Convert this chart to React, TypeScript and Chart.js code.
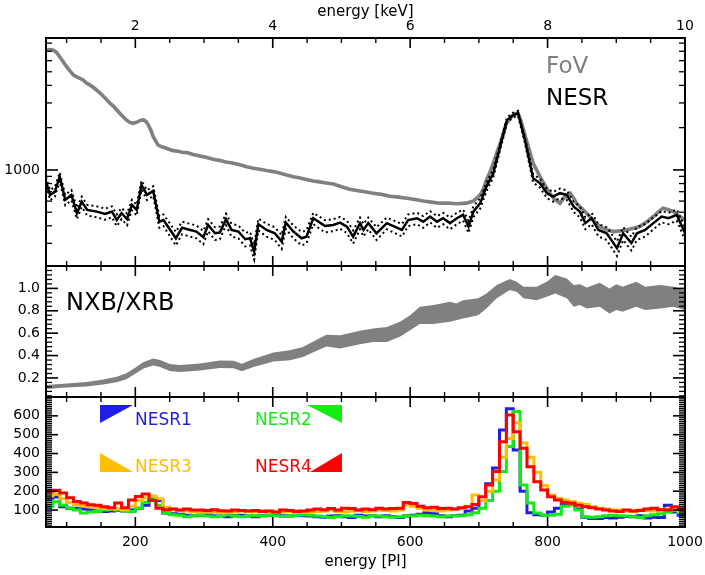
import React, { useEffect, useRef } from "react";
import { Chart, registerables } from "chart.js";

Chart.register(...registerables);

const FONT = "'DejaVu Sans', sans-serif";
Chart.defaults.font.family = FONT;
Chart.defaults.color = "#000";

const GRAY = "#808080";
const BLUE = "#1e1ee6";
const GREEN = "#14eb14";
const ORANGE = "#ffbf00";
const RED = "#ff0000";

// ---------- upper panel: FoV and NESR spectra (counts, log scale) ----------
const fovPI = [
  70, 75, 80, 85, 90, 95, 100, 105, 110, 117, 124, 129, 134, 141, 149, 156, 163, 168, 173, 180,
  187, 192, 197, 203, 208, 212, 216, 219, 223, 226, 230, 233, 237, 241, 248, 255, 262, 268, 275, 284,
  294, 303, 313, 322, 332, 343, 352, 362, 372, 381, 391, 401, 410, 420, 430, 440, 449, 459, 468, 478,
  488, 500, 512, 522, 534, 546, 558, 571, 583, 595, 607, 619, 631, 643, 655, 668, 682, 692, 702, 707,
  711, 716, 721, 726, 731, 736, 740, 745, 750, 754, 757, 761, 765, 768, 772, 776, 779, 784, 789, 796,
  803, 810, 818, 825, 833, 838, 842, 850, 857, 866, 876, 886, 896, 905, 915, 925, 934, 944, 954, 961,
  968, 976, 983, 991, 1000,
];
const fovCounts = [
  7063, 7200, 7142, 6900, 6400, 5900, 5433, 5050, 4745, 4550, 4374, 4150, 4030, 3800, 3515, 3250, 2986, 2850, 2673, 2450,
  2270, 2180, 2149, 2200, 2260, 2270, 2200, 2089, 1900, 1726, 1600, 1506, 1470, 1451, 1410, 1372, 1360, 1335, 1328, 1290,
  1258, 1230, 1191, 1170, 1140, 1116, 1090, 1055, 1028, 1010, 990, 973, 950, 920, 896, 875, 855, 835, 822, 808,
  795, 760, 729, 715, 700, 683, 670, 650, 640, 629, 615, 600, 590, 580, 582, 575, 580, 600, 664, 740,
  849, 960, 1116, 1320, 1549, 1850, 2149, 2320, 2462, 2520, 2533, 2250, 1927, 1700, 1465, 1250, 1116, 1000, 896, 780,
  683, 620, 580, 640, 683, 630, 580, 530, 492, 440, 395, 375, 364, 368, 374, 385, 395, 425, 466, 500,
  534, 520, 505, 470, 440,
];
const nesrPI = [
  70, 76, 83, 90, 98, 107, 115, 122, 130, 144, 156, 166, 173, 180, 188, 195, 202, 209, 217, 226,
  235, 241, 259, 268, 280, 289, 299, 306, 316, 323, 332, 340, 350, 360, 367, 373, 379, 391, 403, 413,
  419, 430, 442, 449, 459, 476, 488, 498, 508, 517, 527, 532, 539, 551, 566, 588, 597, 610, 619, 629,
  639, 648, 658, 668, 677, 685, 692, 702, 711, 721, 731, 741, 750, 757, 767, 779, 789, 799, 808, 818,
  828, 838, 847, 855, 864, 874, 886, 901, 910, 922, 930, 942, 954, 966, 976, 988, 1000,
];
const nesrCounts = [
  825, 664, 701, 896, 612, 664, 492, 595, 519, 505, 486, 505, 440, 492, 446, 564, 519, 782, 664, 709,
  428, 440, 326, 388, 374, 364, 332, 406, 354, 358, 446, 374, 364, 321, 326, 262, 411, 374, 354, 309,
  422, 364, 326, 335, 453, 399, 406, 422, 395, 335, 418, 374, 418, 354, 418, 374, 440, 453, 428, 466,
  428, 453, 418, 453, 479, 395, 505, 580, 761, 947, 1465, 2270, 2462, 2533, 1635, 873, 804, 683, 646, 683,
  664, 548, 505, 418, 453, 374, 354, 277, 354, 301, 354, 374, 418, 466, 453, 479, 354,
];
const nesrErr = [
  60, 55, 55, 62, 52, 55, 45, 50, 46, 45, 44, 45, 42, 45, 42, 48, 46, 58, 54, 56,
  41, 42, 36, 40, 39, 38, 36, 40, 37, 37, 42, 39, 38, 36, 36, 32, 40, 39, 37, 35,
  41, 38, 36, 36, 42, 40, 40, 41, 40, 36, 40, 38, 40, 37, 40, 38, 42, 42, 41, 43,
  41, 42, 40, 42, 43, 39, 45, 48, 56, 62, 78, 98, 102, 104, 82, 60, 57, 53, 51, 53,
  52, 47, 45, 40, 42, 38, 37, 33, 37, 34, 37, 38, 40, 43, 42, 43, 37,
];

// ---------- middle panel: NXB/XRB ratio band ----------
const ratioPI = [
  70, 100, 129, 153, 173, 187, 197, 212, 226, 236, 250, 265, 294, 323, 343, 355, 372, 401, 425, 444,
  464, 478, 498, 527, 546, 566, 585, 600, 614, 634, 658, 667, 677, 699, 711, 726, 745, 755, 765, 784,
  799, 811, 828, 838, 847, 857, 876, 890, 900, 909, 929, 942, 964, 983, 1000,
];
const ratioHi = [
  0.137, 0.15, 0.164, 0.187, 0.21, 0.242, 0.281, 0.343, 0.374, 0.36, 0.324, 0.315, 0.33, 0.356, 0.354, 0.327, 0.37, 0.428, 0.448, 0.477,
  0.542, 0.585, 0.582, 0.621, 0.642, 0.656, 0.701, 0.761, 0.835, 0.851, 0.88, 0.866, 0.895, 0.911, 0.955, 1.03, 1.083, 1.059, 1.014, 1.014,
  1.059, 1.119, 1.089, 1.03, 1.038, 1.009, 1.05, 1.0, 1.038, 1.014, 1.059, 1.014, 1.03, 1.014, 0.985,
];
const ratioLo = [
  0.102, 0.114, 0.123, 0.142, 0.161, 0.188, 0.227, 0.284, 0.312, 0.298, 0.262, 0.253, 0.267, 0.289, 0.286, 0.259, 0.298, 0.348, 0.358, 0.388,
  0.443, 0.48, 0.463, 0.502, 0.522, 0.522, 0.567, 0.627, 0.681, 0.681, 0.701, 0.716, 0.732, 0.761, 0.821, 0.911, 0.985, 0.97, 0.911, 0.895,
  0.925, 0.955, 0.911, 0.835, 0.851, 0.821, 0.835, 0.776, 0.806, 0.791, 0.835, 0.806, 0.821, 0.835, 0.806,
];

// ---------- lower panel: NESR1-4 histograms (10-PI bins, left edges + final edge) ----------
const binEdges = [
  70, 80, 90, 100, 110, 120, 130, 140, 150, 160, 170, 180, 190, 200, 210, 220, 230, 240, 250, 260,
  270, 280, 290, 300, 310, 320, 330, 340, 350, 360, 370, 380, 390, 400, 410, 420, 430, 440, 450, 460,
  470, 480, 490, 500, 510, 520, 530, 540, 550, 560, 570, 580, 590, 600, 610, 620, 630, 640, 650, 660,
  670, 680, 690, 700, 710, 720, 730, 740, 750, 760, 770, 780, 790, 800, 810, 820, 830, 840, 850, 860,
  870, 880, 890, 900, 910, 920, 930, 940, 950, 960, 970, 980, 990, 1000,
];
const nesr1 = [
  162, 169, 118, 110, 110, 105, 100, 95, 92, 95, 98, 95, 100, 110, 126, 163, 150, 84, 80, 78,
  72, 70, 72, 75, 70, 68, 65, 70, 72, 68, 65, 70, 72, 75, 70, 68, 72, 70, 68, 65,
  62, 68, 70, 65, 60, 72, 68, 70, 65, 70, 65, 60, 68, 72, 78, 85, 80, 70, 65, 70,
  72, 95, 110, 150, 240, 323, 525, 637, 419, 200, 85, 75, 72, 90, 110, 125, 135, 105, 62, 55,
  55, 60, 58, 62, 66, 64, 70, 58, 62, 60, 125, 90, 72,
];
const nesr2 = [
  118, 144, 126, 110, 100, 84, 90, 92, 100, 105, 100, 95, 92, 110, 142, 169, 126, 84, 75, 72,
  65, 70, 72, 68, 65, 70, 75, 68, 65, 70, 70, 68, 72, 70, 66, 70, 72, 75, 72, 68,
  65, 60, 65, 70, 68, 66, 62, 70, 68, 65, 62, 65, 70, 68, 72, 70, 68, 65, 68, 70,
  70, 75, 85, 110, 150, 200, 304, 437, 623, 233, 137, 84, 73, 73, 78, 120, 127, 100, 64, 62,
  65, 70, 72, 70, 68, 65, 60, 70, 75, 80, 90, 100, 85,
];
const nesr3 = [
  175, 185, 160, 140, 130, 122, 118, 112, 108, 105, 108, 102, 120, 150, 165, 175, 160, 115, 100, 98,
  95, 90, 92, 88, 90, 85, 88, 90, 95, 92, 90, 95, 92, 88, 90, 92, 95, 90, 88, 92,
  95, 100, 92, 90, 95, 98, 92, 95, 100, 98, 95, 100, 130, 120, 110, 100, 98, 95, 100, 105,
  110, 120, 180, 150, 200, 260, 380, 480, 563, 456, 380, 300, 230, 180, 162, 153, 145, 136, 130, 118,
  110, 105, 100, 100, 95, 92, 100, 98, 95, 100, 105, 100, 95,
];
const nesr4 = [
  200, 205, 190, 165, 145, 137, 128, 125, 118, 112, 137, 112, 153, 172, 185, 150, 110, 102, 105, 100,
  105, 100, 100, 98, 102, 96, 95, 100, 98, 95, 98, 92, 95, 90, 100, 98, 92, 95, 100, 105,
  102, 108, 100, 110, 108, 100, 105, 102, 110, 105, 108, 110, 140, 135, 120, 112, 115, 108, 110, 105,
  112, 118, 130, 171, 233, 304, 463, 605, 516, 428, 330, 250, 206, 171, 153, 140, 136, 125, 118, 112,
  105, 100, 95, 92, 100, 95, 98, 105, 110, 102, 100, 118, 105,
];

// ---------- axis ranges and ticks ----------
const PI_MIN = 70;
const PI_MAX = 1000;
const KEV_MIN = 0.7;
const KEV_MAX = 10;
const COUNT_MIN = 207;
const COUNT_MAX = 8700;
const RATIO_MIN = 0.03;
const RATIO_MAX = 1.2;
const HIST_MIN = 10;
const HIST_MAX = 700;

const piMajor = [200, 400, 600, 800, 1000];
const piMinor = [100, 150, 250, 300, 350, 450, 500, 550, 650, 700, 750, 850, 900, 950];
const kevMajor = [2, 4, 6, 8, 10];
const kevMinor = [1, 1.5, 2.5, 3, 3.5, 4.5, 5, 5.5, 6.5, 7, 7.5, 8.5, 9, 9.5];
const countMajor = [1000];
const countMinor = [300, 400, 500, 600, 700, 800, 900, 2000, 3000, 4000, 5000, 6000, 7000, 8000];
const ratioMajor = [0.2, 0.4, 0.6, 0.8, 1.0];
const ratioMinor = [
  0.04, 0.08, 0.12, 0.16, 0.24, 0.28, 0.32, 0.36, 0.44, 0.48, 0.52, 0.56,
  0.64, 0.68, 0.72, 0.76, 0.84, 0.88, 0.92, 0.96, 1.04, 1.08, 1.12, 1.16,
];
const histMajor = [100, 200, 300, 400, 500, 600];
const histMinor: number[] = [];
for (let v = 20; v < HIST_MAX; v += 10) if (v % 100 !== 0) histMinor.push(v);

// ---------- layout ----------
const PAGE_W = 705;
const AXIS_W = 46; // left axis box width -> plot starts at x=46
const RIGHT_PAD = 20; // plot ends at x=685
const TOP_CANVAS = { top: 0, height: 270 };
const MID_CANVAS = { top: 262, height: 139 };
const BOT_CANVAS = { top: 393, height: 182 };

const pts = (xs: number[], ys: number[]) =>
  ys.map((y, i) => ({ x: xs[i], y })).filter((p) => p.x !== undefined);

const histPts = (vals: number[]) => {
  const p = vals.map((v, i) => ({ x: binEdges[i], y: v }));
  p.push({ x: binEdges[vals.length], y: vals[vals.length - 1] });
  return p;
};

const setTicks = (vals: number[]) => (scale: any) => {
  scale.ticks = vals.map((v) => ({ value: v }));
};
const fixWidth = (w: number) => (scale: any) => {
  scale.width = w;
  scale.paddingTop = 0;
  scale.paddingBottom = 0;
  scale.paddingLeft = 0;
  scale.paddingRight = 0;
};
const fixHeight = (h: number) => (scale: any) => {
  scale.height = h;
  scale.paddingTop = 0;
  scale.paddingBottom = 0;
  scale.paddingLeft = 0;
  scale.paddingRight = 0;
};

type TickSet = { id: string; major: number[]; minor: number[] };

// Box frame with inward-pointing ticks on all four sides.
function framePlugin(top: TickSet, bottom: TickSet, side: TickSet) {
  return {
    id: "frame",
    afterDatasetsDraw(chart: any) {
      const { ctx, chartArea: a } = chart;
      ctx.save();
      ctx.strokeStyle = "#000";
      ctx.lineCap = "butt";
      const seg = (x1: number, y1: number, x2: number, y2: number, w: number) => {
        ctx.lineWidth = w;
        ctx.beginPath();
        ctx.moveTo(x1, y1);
        ctx.lineTo(x2, y2);
        ctx.stroke();
      };
      const xTicks = (t: TickSet, y: number, dir: number) => {
        const s = chart.scales[t.id];
        t.major.forEach((v) => {
          const x = s.getPixelForValue(v);
          seg(x, y, x, y + dir * 10, 1.6);
        });
        t.minor.forEach((v) => {
          const x = s.getPixelForValue(v);
          seg(x, y, x, y + dir * 5, 1.4);
        });
      };
      xTicks(top, a.top, 1);
      xTicks(bottom, a.bottom, -1);
      const ys = chart.scales[side.id];
      side.major.forEach((v) => {
        const y = ys.getPixelForValue(v);
        seg(a.left, y, a.left + 12, y, 1.6);
        seg(a.right, y, a.right - 12, y, 1.6);
      });
      side.minor.forEach((v) => {
        const y = ys.getPixelForValue(v);
        seg(a.left, y, a.left + 6, y, 1.3);
        seg(a.right, y, a.right - 6, y, 1.3);
      });
      ctx.lineWidth = 2;
      ctx.strokeRect(a.left, a.top, a.right - a.left, a.bottom - a.top);
      ctx.restore();
    },
  };
}

type Label = { text: string; x: number; y: number; size: number; color: string };
type Tri = { pts: number[][]; color: string };

// Panel annotations given in page coordinates; offset is the canvas top.
function notesPlugin(offset: number, labels: Label[], tris: Tri[] = []) {
  return {
    id: "notes",
    afterDraw(chart: any) {
      const { ctx } = chart;
      ctx.save();
      tris.forEach((t) => {
        ctx.fillStyle = t.color;
        ctx.beginPath();
        t.pts.forEach(([x, y], i) => (i ? ctx.lineTo(x, y - offset) : ctx.moveTo(x, y - offset)));
        ctx.closePath();
        ctx.fill();
      });
      ctx.textBaseline = "alphabetic";
      ctx.textAlign = "left";
      labels.forEach((l) => {
        ctx.font = `${l.size}px ${FONT}`;
        ctx.fillStyle = l.color;
        ctx.fillText(l.text, l.x, l.y - offset);
      });
      ctx.restore();
    },
  };
}

const baseOptions = (padding: any) => ({
  responsive: false,
  animation: false,
  devicePixelRatio: 1,
  events: [],
  layout: { padding },
  plugins: { legend: { display: false }, tooltip: { enabled: false } },
});

const noGrid = { grid: { display: false, drawTicks: false }, border: { display: false } };

const leftAxis = (type: string, min: number, max: number, major: number[], fmt: (v: number) => string) => ({
  type,
  position: "left",
  min,
  max,
  ...noGrid,
  ticks: { font: { size: 14 }, padding: 6, color: "#000", autoSkip: false, callback: (v: any) => fmt(Number(v)) },
  afterBuildTicks: setTicks(major),
  afterFit: fixWidth(AXIS_W),
});

function topConfig(): any {
  const hi = nesrCounts.map((v, i) => v + nesrErr[i]);
  const lo = nesrCounts.map((v, i) => v - nesrErr[i]);
  const line = (data: any[], color: string, width: number, dash: number[] = []) => ({
    data,
    borderColor: color,
    borderWidth: width,
    borderDash: dash,
    pointRadius: 0,
    fill: false,
    xAxisID: "x",
    yAxisID: "y",
  });
  return {
    type: "line",
    data: {
      datasets: [
        line(pts(nesrPI, nesrCounts), "#000", 2.5),
        line(pts(nesrPI, hi), "#000", 2, [2, 3]),
        line(pts(nesrPI, lo), "#000", 2, [2, 3]),
        line(pts(fovPI, fovCounts), GRAY, 3.6),
      ],
    },
    options: {
      ...baseOptions({ left: 0, top: 0, right: RIGHT_PAD, bottom: 4 }),
      scales: {
        x: { type: "linear", min: PI_MIN, max: PI_MAX, display: false },
        xTop: {
          type: "linear",
          position: "top",
          min: KEV_MIN,
          max: KEV_MAX,
          ...noGrid,
          ticks: { font: { size: 14 }, padding: 3, color: "#000", maxRotation: 0, autoSkip: false, callback: (v: any) => String(v) },
          title: { display: true, text: "energy [keV]", font: { size: 15 }, color: "#000", padding: { top: 3, bottom: 0 } },
          afterBuildTicks: setTicks(kevMajor),
          afterFit: fixHeight(38),
        },
        y: leftAxis("logarithmic", COUNT_MIN, COUNT_MAX, countMajor, (v) => String(v)),
      },
    },
    plugins: [
      framePlugin(
        { id: "xTop", major: kevMajor, minor: kevMinor },
        { id: "x", major: piMajor, minor: piMinor },
        { id: "y", major: countMajor, minor: countMinor }
      ),
      notesPlugin(TOP_CANVAS.top, [
        { text: "FoV", x: 546, y: 73, size: 23, color: GRAY },
        { text: "NESR", x: 546, y: 105, size: 23, color: "#000" },
      ]),
    ],
  };
}

function midConfig(): any {
  return {
    type: "line",
    data: {
      datasets: [
        {
          data: pts(ratioPI, ratioHi),
          borderWidth: 0,
          borderColor: GRAY,
          backgroundColor: GRAY,
          pointRadius: 0,
          fill: "+1",
          xAxisID: "x",
          yAxisID: "y",
        },
        {
          data: pts(ratioPI, ratioLo),
          borderWidth: 0,
          borderColor: GRAY,
          pointRadius: 0,
          fill: false,
          xAxisID: "x",
          yAxisID: "y",
        },
      ],
    },
    options: {
      ...baseOptions({ left: 0, top: 4, right: RIGHT_PAD, bottom: 4 }),
      scales: {
        x: { type: "linear", min: PI_MIN, max: PI_MAX, display: false },
        y: leftAxis("linear", RATIO_MIN, RATIO_MAX, ratioMajor, (v) => v.toFixed(1)),
      },
    },
    plugins: [
      framePlugin(
        { id: "x", major: piMajor, minor: piMinor },
        { id: "x", major: piMajor, minor: piMinor },
        { id: "y", major: ratioMajor, minor: ratioMinor }
      ),
      notesPlugin(MID_CANVAS.top, [{ text: "NXB/XRB", x: 66, y: 310, size: 24, color: "#000" }]),
    ],
  };
}

function botConfig(): any {
  const hist = (vals: number[], color: string) => ({
    data: histPts(vals),
    borderColor: color,
    borderWidth: 3,
    pointRadius: 0,
    stepped: true,
    fill: false,
    xAxisID: "x",
    yAxisID: "y",
  });
  return {
    type: "line",
    data: {
      // first dataset is painted last (on top)
      datasets: [hist(nesr4, RED), hist(nesr3, ORANGE), hist(nesr2, GREEN), hist(nesr1, BLUE)],
    },
    options: {
      ...baseOptions({ left: 0, top: 4, right: RIGHT_PAD, bottom: 0 }),
      scales: {
        x: {
          type: "linear",
          position: "bottom",
          min: PI_MIN,
          max: PI_MAX,
          ...noGrid,
          ticks: { font: { size: 14 }, padding: 7, color: "#000", maxRotation: 0, autoSkip: false, callback: (v: any) => String(v) },
          title: { display: true, text: "energy [PI]", font: { size: 15 }, color: "#000", padding: { top: 0, bottom: 4 } },
          afterBuildTicks: setTicks(piMajor),
          afterFit: fixHeight(48),
        },
        y: leftAxis("linear", HIST_MIN, HIST_MAX, histMajor, (v) => String(v)),
      },
    },
    plugins: [
      framePlugin(
        { id: "x", major: piMajor, minor: piMinor },
        { id: "x", major: piMajor, minor: piMinor },
        { id: "y", major: histMajor, minor: histMinor }
      ),
      notesPlugin(
        BOT_CANVAS.top,
        [
          { text: "NESR1", x: 135, y: 425, size: 17, color: BLUE },
          { text: "NESR2", x: 255, y: 425, size: 17, color: GREEN },
          { text: "NESR3", x: 135, y: 472, size: 17, color: ORANGE },
          { text: "NESR4", x: 255, y: 472, size: 17, color: RED },
        ],
        [
          { pts: [[100, 405], [133, 405], [100, 423]], color: BLUE },
          { pts: [[307, 405], [342, 405], [342, 423]], color: GREEN },
          { pts: [[100, 453], [100, 472], [133, 472]], color: ORANGE },
          { pts: [[342, 453], [342, 472], [310, 472]], color: RED },
        ]
      ),
    ],
  };
}

export default function App() {
  const topRef = useRef<HTMLCanvasElement>(null);
  const midRef = useRef<HTMLCanvasElement>(null);
  const botRef = useRef<HTMLCanvasElement>(null);

  useEffect(() => {
    const charts = [
      new Chart(topRef.current as HTMLCanvasElement, topConfig()),
      new Chart(midRef.current as HTMLCanvasElement, midConfig()),
      new Chart(botRef.current as HTMLCanvasElement, botConfig()),
    ];
    return () => charts.forEach((c) => c.destroy());
  }, []);

  const canvasStyle = (c: { top: number; height: number }): React.CSSProperties => ({
    position: "absolute",
    left: 0,
    top: c.top,
    width: PAGE_W,
    height: c.height,
  });

  return (
    <div
      style={{
        position: "fixed",
        left: 0,
        top: 0,
        width: PAGE_W,
        height: 575,
        background: "#fff",
        overflow: "hidden",
        fontFamily: FONT,
      }}
    >
      <canvas ref={topRef} width={PAGE_W} height={TOP_CANVAS.height} style={canvasStyle(TOP_CANVAS)} />
      <canvas ref={midRef} width={PAGE_W} height={MID_CANVAS.height} style={canvasStyle(MID_CANVAS)} />
      <canvas ref={botRef} width={PAGE_W} height={BOT_CANVAS.height} style={canvasStyle(BOT_CANVAS)} />
    </div>
  );
}
